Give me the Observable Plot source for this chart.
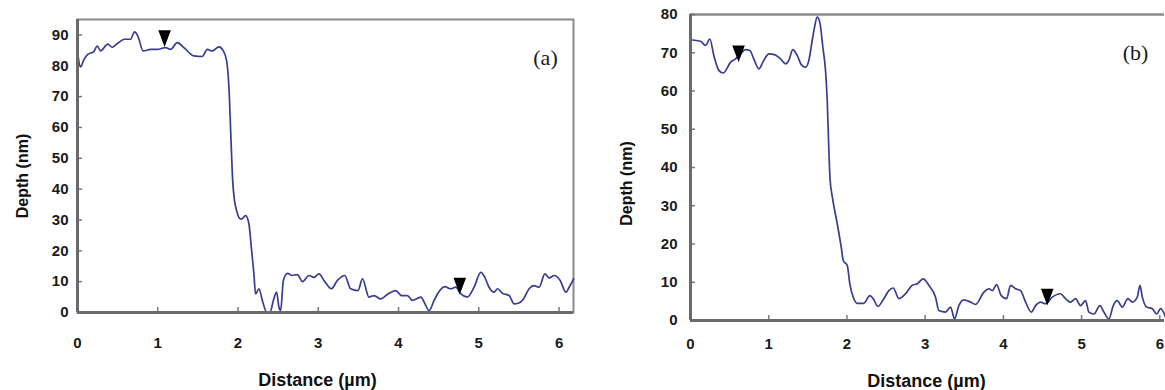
<!DOCTYPE html>
<html><head><meta charset="utf-8">
<script src="https://cdn.jsdelivr.net/npm/d3@7"></script>
<script src="https://cdn.jsdelivr.net/npm/@observablehq/plot@0.6"></script>
<style>
body{margin:0;background:#fff;}
#wrap{position:relative;width:1165px;height:390px;overflow:hidden;background:#fff;}
#wrap svg{position:absolute;top:0;overflow:visible;}
</style></head><body><div id="wrap"></div>
<script>
// ---------- Panel (a) ----------
const distA = [0.000,0.037,0.079,0.128,0.203,0.246,0.287,0.378,0.433,0.495,0.586,0.661,0.711,0.752,0.819,0.910,0.994,1.097,1.160,1.243,1.325,1.450,1.555,1.617,1.680,1.762,1.817,1.858,1.887,1.914,1.933,1.958,1.983,2.011,2.041,2.095,2.136,2.166,2.198,2.219,2.261,2.303,2.357,2.398,2.440,2.481,2.510,2.531,2.565,2.615,2.677,2.739,2.805,2.884,2.946,3.009,3.071,3.163,3.238,3.329,3.404,3.495,3.550,3.632,3.695,3.778,3.869,3.965,4.036,4.111,4.173,4.277,4.339,4.380,4.443,4.485,4.576,4.651,4.713,4.776,4.859,4.941,5.025,5.075,5.128,5.191,5.233,5.296,5.378,5.440,5.490,5.557,5.627,5.690,5.752,5.823,5.878,5.939,6.014,6.085,6.126,6.181];
const depthA = [84.8,79.6,82.0,83.7,84.6,86.4,84.8,87.0,86.0,87.2,88.6,88.6,91.0,89.6,84.8,85.3,85.3,85.9,85.3,87.5,85.9,83.2,83.0,85.3,84.8,86.1,84.8,81.6,72.9,55.0,43.0,36.0,33.0,30.8,30.3,31.4,28.7,21.1,12.5,6.0,7.7,3.9,0.1,0.0,3.9,6.6,1.7,0.6,10.4,12.7,12.0,12.3,10.0,12.0,11.4,12.5,10.4,7.7,10.4,12.0,7.7,7.1,10.9,5.0,5.5,4.4,6.0,7.1,5.5,5.5,3.9,5.0,2.3,0.6,3.9,6.0,8.4,7.7,8.2,6.0,5.0,8.2,13.0,11.4,8.2,6.6,7.7,6.2,5.5,2.8,3.0,4.4,7.7,8.7,8.2,12.5,11.2,12.0,10.4,6.6,8.2,10.9];
const markerDistA = [1.085, 4.763];
const markerDepthA = [86.1, 5.8];
const yTicksA = [0,10,20,30,40,50,60,70,80,90];

// ---------- Panel (b) ----------
const distB = [0.000,0.128,0.192,0.247,0.298,0.362,0.418,0.512,0.575,0.639,0.703,0.758,0.809,0.873,0.937,1.001,1.074,1.151,1.215,1.257,1.308,1.364,1.416,1.471,1.513,1.556,1.586,1.620,1.653,1.692,1.726,1.748,1.765,1.784,1.816,1.876,1.927,1.953,2.004,2.037,2.088,2.132,2.216,2.293,2.336,2.395,2.472,2.536,2.592,2.664,2.749,2.835,2.899,2.976,3.047,3.133,3.175,3.261,3.325,3.376,3.431,3.495,3.581,3.645,3.751,3.815,3.858,3.913,3.973,4.041,4.092,4.156,4.220,4.284,4.357,4.412,4.476,4.540,4.625,4.731,4.795,4.859,4.923,4.987,5.051,5.093,5.157,5.234,5.285,5.349,5.405,5.456,5.520,5.592,5.648,5.712,5.746,5.777,5.831,5.904,5.959,6.010,6.074];
const depthB = [73.4,73.0,71.9,73.6,69.3,65.4,64.7,67.5,68.4,69.7,70.8,70.6,68.4,65.8,68.0,69.7,69.5,68.4,67.1,68.0,70.8,69.3,66.9,66.2,68.0,73.2,76.7,79.3,78.0,71.5,65.4,57.5,47.0,37.0,32.0,25.3,19.2,15.7,14.4,9.6,5.7,4.5,4.5,6.5,5.7,3.7,5.7,7.8,8.5,5.7,7.0,9.2,9.6,10.9,9.2,6.1,2.6,2.2,3.5,0.4,3.9,5.4,4.8,4.2,7.4,8.3,7.8,9.4,6.5,5.7,9.2,8.3,7.8,4.8,2.2,3.9,4.8,4.4,6.1,7.0,5.7,4.8,5.7,3.9,5.2,2.2,1.7,3.9,2.2,0.4,3.9,5.2,3.5,5.7,4.8,6.1,9.2,6.1,3.5,3.1,1.7,3.1,0.9];
const markerDistB = [0.614, 4.561];
const markerDepthB = [67.5, 3.9];
const yTicksB = [0,10,20,30,40,50,60,70,80];

const xTicks = [0,1,2,3,4,5,6];
const yTitle = "Depth (nm)";
const xTitle = "Distance (µm)";

// down-pointing triangle whose tip sits on the data point
const downTri = {
  draw(ctx, size) {
    const r = Math.sqrt(size / Math.PI);
    ctx.moveTo(0, 0);
    ctx.lineTo(-1.05 * r, -2.8 * r);
    ctx.lineTo(1.05 * r, -2.8 * r);
    ctx.closePath();
  }
};

const lineColor = "#3a3c90";
const tickFont = "Liberation Sans, Arial, sans-serif";

function panel(o) {
  const rows = o.dist.map((d, i) => ({x: d, y: o.depth[i]}));
  const marks = o.mx.map((d, i) => ({x: d, y: o.my[i]}));
  const plotW = o.width - o.ml - o.mr;
  const plotH = o.height - o.mt - o.mb;
  const svg = Plot.plot({
    width: o.width, height: o.height,
    marginLeft: o.ml, marginRight: o.mr, marginTop: o.mt, marginBottom: o.mb,
    style: {background: "transparent", fontFamily: tickFont, overflow: "visible"},
    x: {domain: o.xDomain},
    y: {domain: o.yDomain},
    marks: [
      o.fullFrame ? Plot.frame({stroke: "#8a8a8a", strokeWidth: 2}) : Plot.ruleY([o.yDomain[1]], {stroke: "#8a8a8a", strokeWidth: 2.5}),
      Plot.tickX(xTicks, {x: d => d, stroke: "#777", strokeWidth: 1.5, insetTop: plotH - 5}),
      Plot.tickY(o.yTicks, {y: d => d, stroke: "#777", strokeWidth: 1.5, insetRight: plotW - 5}),
      Plot.line(rows, {x: "x", y: "y", stroke: lineColor, strokeWidth: 1.7, curve: "monotone-x"}),
      Plot.ruleX([0], {stroke: "#6a6a6a", strokeWidth: 3}),
      Plot.ruleY([0], {stroke: "#6a6a6a", strokeWidth: 3}),
      Plot.dot(marks, {x: "x", y: "y", symbol: downTri, r: 6, fill: "#000", stroke: null}),
      Plot.axisX(xTicks, {tickSize: 0, tickPadding: o.xPad, fontSize: 15, fontWeight: "bold", fill: "#1a1a1a", label: null}),
      Plot.axisY(o.yTicks, {tickSize: 0, tickPadding: o.yPad, fontSize: 15, fontWeight: "bold", fill: "#1a1a1a", label: null}),
      Plot.text([yTitle], {text: d => d, frameAnchor: "left", rotate: -90, dx: o.ytDx, dy: o.ytDy, fontSize: 16, fontWeight: "bold", fill: "#111", textAnchor: "middle", lineAnchor: "middle"}),
      Plot.text([xTitle], {text: d => d, frameAnchor: "bottom", dx: o.xtDx, dy: o.xtDy, fontSize: 18, fontWeight: "bold", fill: "#111", textAnchor: "middle", lineAnchor: "middle"}),
      Plot.text([o.label], {text: d => d, frameAnchor: "top-right", dx: o.lDx, dy: o.lDy, fontSize: 22, fontFamily: "Liberation Serif, serif", fill: "#1a1a1a", textAnchor: "middle", lineAnchor: "middle"})
    ]
  });
  svg.style.left = o.left + "px";
  return svg;
}

const wrap = document.getElementById("wrap");
wrap.appendChild(panel({
  dist: distA, depth: depthA, mx: markerDistA, my: markerDepthA,
  xDomain: [0, 6.18], yDomain: [0, 95], yTicks: yTicksA,
  width: 590, height: 390, left: 0, ml: 77, mr: 17, mt: 19, mb: 78,
  xPad: 25, yPad: 9, fullFrame: true,
  ytDx: -55, ytDy: 10, xtDx: -8, xtDy: 68,
  label: "(a)", lDx: -28, lDy: 38
}));
wrap.appendChild(panel({
  dist: distB, depth: depthB, mx: markerDistB, my: markerDepthB,
  xDomain: [0, 6.06], yDomain: [0, 80], yTicks: yTicksB,
  width: 575, height: 390, left: 590, ml: 100, mr: 1, mt: 14, mb: 70,
  xPad: 18, yPad: 13, fullFrame: false,
  ytDx: -64, ytDy: 16, xtDx: -1, xtDy: 61,
  label: "(b)", lDx: -29, lDy: 38
}));
</script>
</body></html>
